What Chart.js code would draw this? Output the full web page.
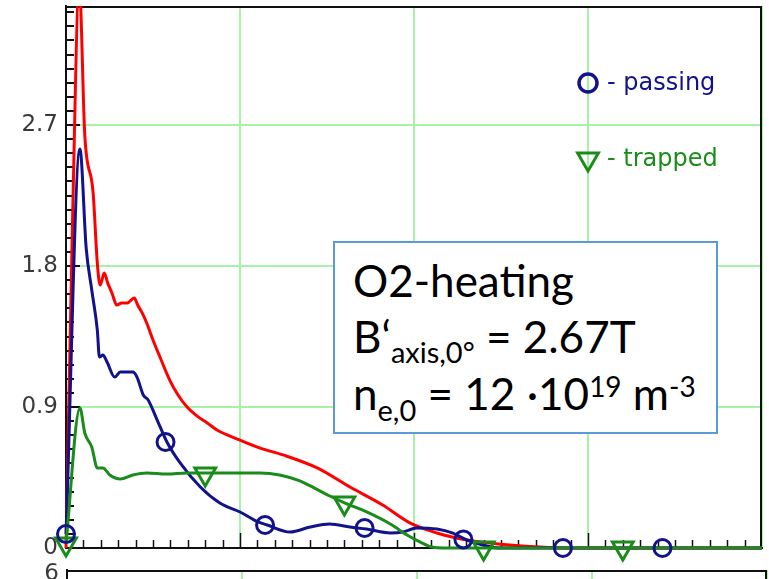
<!DOCTYPE html>
<html><head><meta charset="utf-8">
<script src="https://cdn.jsdelivr.net/npm/chart.js@4.4.1/dist/chart.umd.min.js"></script>
<style>
html,body{margin:0;padding:0;background:#fff;overflow:hidden;width:769px;height:579px;}
#main{position:absolute;left:0;top:0;}
#lower{position:absolute;left:0;top:555px;}
#note{position:absolute;left:333px;top:241px;width:381px;height:189px;border:2px solid #5b9bd5;background:#fff;font-family:Lato,sans-serif;font-size:44px;color:#000;}
.ln{position:absolute;left:18px;line-height:56px;white-space:nowrap;}
.sub{position:relative;font-size:29px;}
.sup{position:relative;font-size:28px;top:-13px;}
</style></head><body>
<canvas id="main" width="769" height="579"></canvas>
<canvas id="lower" width="769" height="260"></canvas>
<div id="note">
  <div class="ln" style="top:9px">O2-heating</div>
  <div class="ln" style="top:65px">B‘<span class="sub" style="top:10px">axis,0°</span> = 2.67T</div>
  <div class="ln" style="top:122px">n<span class="sub" style="top:11px">e,0</span> = 12 ·10<span class="sup">19</span> m<span class="sup">-3</span></div>
</div>
<script>
// ---- data ----
const xTicks = [0, 0.25, 0.5, 0.75, 1];
const yTicks = [0, 0.9, 1.8, 2.7];
const yTickLabels = ['0', '0.9', '1.8', '2.7'];
const lowerYTicks = [0, 2, 4, 6];
const lowerYTickLabels = ['0', '2', '4', '6'];

const totalX = [0, 0.010, 0.019, 0.027, 0.039, 0.045, 0.049, 0.055, 0.060, 0.066, 0.073, 0.080, 0.088, 0.098, 0.103, 0.111, 0.116, 0.125, 0.135, 0.149, 0.161, 0.174, 0.188, 0.203, 0.217, 0.250, 0.279, 0.312, 0.361, 0.408, 0.455, 0.494, 0.533, 0.576, 0.609, 0.638, 0.681, 0.724, 1.0];
const totalY = [0, 2.22, 3.60, 2.636, 2.266, 1.819, 1.679, 1.755, 1.691, 1.628, 1.551, 1.564, 1.564, 1.596, 1.551, 1.487, 1.436, 1.328, 1.219, 1.072, 0.977, 0.900, 0.843, 0.798, 0.753, 0.689, 0.638, 0.594, 0.511, 0.389, 0.274, 0.160, 0.096, 0.051, 0.032, 0.019, 0.006, 0, 0];

const passingX = [0, 0.020, 0.029, 0.037, 0.045, 0.048, 0.053, 0.059, 0.070, 0.078, 0.088, 0.096, 0.102, 0.111, 0.118, 0.131, 0.145, 0.164, 0.193, 0.221, 0.250, 0.276, 0.289, 0.322, 0.351, 0.379, 0.408, 0.432, 0.466, 0.484, 0.504, 0.533, 0.555, 0.576, 0.599, 0.624, 1.0];
const passingY = [0.089, 2.547, 1.915, 1.647, 1.391, 1.219, 1.232, 1.187, 1.091, 1.123, 1.123, 1.123, 1.091, 0.977, 0.945, 0.817, 0.677, 0.543, 0.389, 0.287, 0.230, 0.166, 0.147, 0.102, 0.134, 0.153, 0.134, 0.121, 0.096, 0.102, 0.128, 0.121, 0.096, 0.051, 0.019, 0, 0];

const trappedX = [0, 0.020, 0.027, 0.037, 0.045, 0.053, 0.063, 0.078, 0.096, 0.116, 0.145, 0.174, 0.217, 0.279, 0.307, 0.336, 0.351, 0.379, 0.401, 0.432, 0.466, 0.490, 0.509, 0.526, 0.545, 1.0];
const trappedY = [0.026, 0.894, 0.734, 0.645, 0.511, 0.511, 0.466, 0.440, 0.466, 0.479, 0.472, 0.479, 0.479, 0.479, 0.466, 0.428, 0.396, 0.332, 0.287, 0.230, 0.153, 0.083, 0.038, 0.006, 0, 0];

const passingMarkX = [0, 0.143, 0.286, 0.429, 0.571, 0.714, 0.857];
const passingMarkY = [0.089, 0.677, 0.147, 0.128, 0.055, 0, 0];
const trappedMarkX = [0, 0.2, 0.4, 0.6, 0.8];
const trappedMarkY = [0.026, 0.472, 0.287, 0, 0];

// ---- styles ----
const RED = '#ff0000', NAVY = '#12128c', GREEN = '#1a8c1a', GRID = '#a6f3a6', AXIS = '#111111';
const TICKFONT = {family: 'DejaVu Sans', size: 23};
const pts = (xs, ys) => xs.map((x, i) => ({x, y: ys[i]}));
const CLIP = {left: 20, top: 0, right: 0, bottom: 20};
const noPad = s => { s.paddingTop = 0; s.paddingBottom = 0; s.paddingLeft = 0; s.paddingRight = 0; };

const decor = {
  id: 'decor',
  beforeDatasetsDraw(chart) {
    const {ctx, chartArea: a, scales: {x, y}} = chart;
    ctx.save();
    ctx.strokeStyle = AXIS;
    ctx.lineWidth = 2;
    for (let i = 0; ; i++) {
      const v = i * 0.09;
      if (v > y.max + 1e-9) break;
      const p = Math.round(y.getPixelForValue(v));
      const major = i % 10 === 0;
      ctx.beginPath(); ctx.moveTo(a.left, p); ctx.lineTo(a.left + (major ? 14 : 8), p); ctx.stroke();
    }
    ctx.lineWidth = 1.5;
    for (let i = 1; i < 40; i++) {
      const v = i * 0.025;
      const p = Math.round(x.getPixelForValue(v)) + 0.5;
      const major = i % 10 === 0;
      ctx.beginPath(); ctx.moveTo(p, a.bottom); ctx.lineTo(p, a.bottom - (major ? 15 : 8)); ctx.stroke();
    }
    ctx.lineWidth = 2;
    ctx.beginPath();
    ctx.moveTo(a.left, a.top + 1); ctx.lineTo(a.right - 1, a.top + 1); ctx.lineTo(a.right - 1, a.bottom);
    ctx.stroke();
    ctx.restore();
  },
  afterDatasetsDraw(chart) {
    const ctx = chart.ctx;
    ctx.save();
    ctx.lineWidth = 3.5;
    ctx.strokeStyle = NAVY;
    ctx.beginPath(); ctx.arc(588, 83, 9, 0, Math.PI * 2); ctx.stroke();
    ctx.strokeStyle = GREEN;
    ctx.lineWidth = 3;
    const r = 12, cx = 588, cy = 159;
    ctx.beginPath();
    ctx.moveTo(cx, cy + r);
    ctx.lineTo(cx - r * Math.sin(Math.PI / 3), cy - r / 2);
    ctx.lineTo(cx + r * Math.sin(Math.PI / 3), cy - r / 2);
    ctx.closePath(); ctx.stroke();
    ctx.font = '24px "DejaVu Sans"';
    ctx.textBaseline = 'middle';
    ctx.fillStyle = NAVY; ctx.fillText('- passing', 607, 84);
    ctx.fillStyle = GREEN; ctx.fillText('- trapped', 607, 160);
    ctx.restore();
  }
};

new Chart(document.getElementById('main'), {
  type: 'line',
  data: {
    datasets: [
      {label: 'passing markers', data: pts(passingMarkX, passingMarkY), showLine: false, order: 0,
       pointStyle: 'circle', pointRadius: 8.5, pointBorderWidth: 3, pointBorderColor: NAVY, pointBackgroundColor: 'rgba(0,0,0,0)', clip: CLIP},
      {label: 'trapped markers', data: pts(trappedMarkX, trappedMarkY), showLine: false, order: 0,
       pointStyle: 'triangle', pointRotation: 180, pointRadius: 12, pointBorderWidth: 3, pointBorderColor: GREEN, pointBackgroundColor: 'rgba(0,0,0,0)', clip: CLIP},
      {label: 'trapped', data: pts(trappedX, trappedY), borderColor: GREEN, borderWidth: 3, pointRadius: 0, cubicInterpolationMode: 'monotone', order: 1, clip: CLIP},
      {label: 'passing', data: pts(passingX, passingY), borderColor: NAVY, borderWidth: 3, pointRadius: 0, cubicInterpolationMode: 'monotone', order: 2, clip: CLIP},
      {label: 'total', data: pts(totalX, totalY), borderColor: RED, borderWidth: 3, pointRadius: 0, cubicInterpolationMode: 'monotone', order: 3, clip: CLIP}
    ]
  },
  options: {
    responsive: false, animation: false, devicePixelRatio: 1,
    layout: {autoPadding: false, padding: {top: 6, right: 7, left: 0, bottom: 0}},
    plugins: {legend: {display: false}, tooltip: {enabled: false}},
    scales: {
      x: {type: 'linear', min: 0, max: 1,
          afterBuildTicks: s => { s.ticks = xTicks.map(v => ({value: v})); },
          afterFit: s => { s.height = 31; noPad(s); },
          ticks: {display: false},
          grid: {color: GRID, lineWidth: 2, drawTicks: false},
          border: {display: true, color: AXIS, width: 2}},
      y: {type: 'linear', min: 0, max: 3.46,
          afterBuildTicks: s => { s.ticks = yTicks.map(v => ({value: v})); },
          afterFit: s => { s.width = 66; noPad(s); },
          ticks: {font: TICKFONT, color: '#3a3a3a', padding: 8,
                  callback: v => { const i = yTicks.indexOf(v); return i >= 0 ? yTickLabels[i] : ''; }},
          grid: {color: GRID, lineWidth: 2, drawTicks: false},
          border: {display: true, color: AXIS, width: 2}}
    }
  },
  plugins: [decor]
});

const lowerFrame = {
  id: 'lowerFrame',
  afterDraw(chart) {
    const {ctx, chartArea: a} = chart;
    ctx.save();
    ctx.strokeStyle = AXIS; ctx.lineWidth = 2;
    ctx.beginPath();
    ctx.moveTo(a.left, a.top + 1); ctx.lineTo(a.right - 1, a.top + 1); ctx.lineTo(a.right - 1, a.bottom);
    ctx.stroke();
    ctx.restore();
  }
};

new Chart(document.getElementById('lower'), {
  type: 'scatter',
  data: {datasets: [{data: []}]},
  options: {
    responsive: false, animation: false, devicePixelRatio: 1,
    layout: {autoPadding: false, padding: {top: 15, right: 2, left: 0, bottom: 0}},
    plugins: {legend: {display: false}, tooltip: {enabled: false}},
    scales: {
      x: {type: 'linear', min: 0, max: 1,
          afterBuildTicks: s => { s.ticks = xTicks.map(v => ({value: v})); },
          afterFit: s => { s.height = 0; noPad(s); },
          ticks: {display: false},
          grid: {color: GRID, lineWidth: 2, drawTicks: false},
          border: {display: false}},
      y: {type: 'linear', min: 0, max: 6.1,
          afterBuildTicks: s => { s.ticks = lowerYTicks.map(v => ({value: v})); },
          afterFit: s => { s.width = 67; noPad(s); },
          ticks: {font: TICKFONT, color: '#3a3a3a', padding: 8,
                  callback: v => { const i = lowerYTicks.indexOf(v); return i >= 0 ? lowerYTickLabels[i] : ''; }},
          grid: {color: 'rgba(0,0,0,0)', drawTicks: false},
          border: {display: true, color: AXIS, width: 2}}
    }
  },
  plugins: [lowerFrame]
});
</script>
</body></html>
